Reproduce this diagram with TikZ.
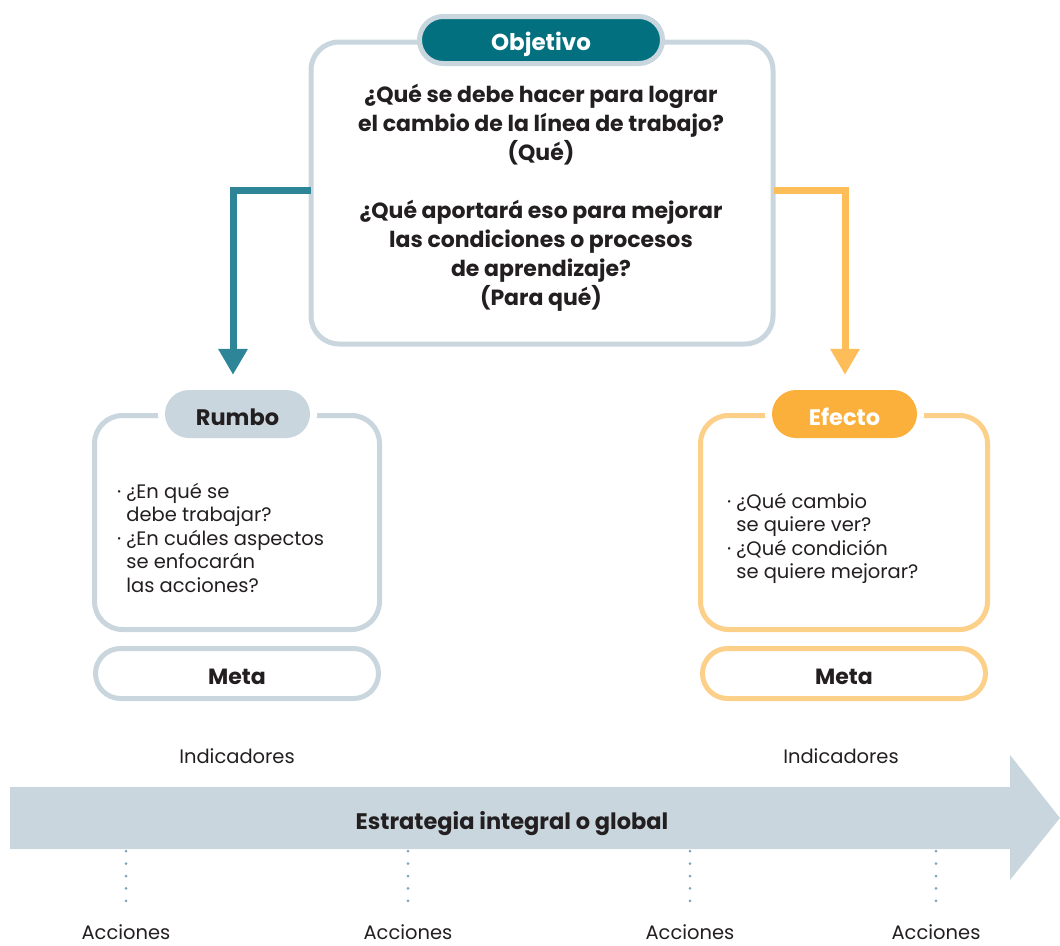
\documentclass[tikz,border=0pt]{standalone}
\usepackage{fontspec}
\setmainfont{Poppins}
\usetikzlibrary{arrows.meta,calc}

\definecolor{framegray}{HTML}{C9D6DE}
\definecolor{tealdark}{HTML}{03707F}
\definecolor{tealarrow}{HTML}{2F8598}
\definecolor{orangetag}{HTML}{FBB03B}
\definecolor{orangeframe}{HTML}{FDD089}
\definecolor{orangearrow}{HTML}{FDBE5A}
\definecolor{ink}{HTML}{231F20}
\definecolor{dotblue}{HTML}{7FA6B8}

\begin{document}
\begin{tikzpicture}[x=1pt,y=-1pt,
  every node/.style={text=ink},
  frame/.style={draw, line width=5pt, rounded corners=28pt, fill=white, inner sep=0pt},
  pill/.style={draw, line width=5pt, rounded corners=25pt, fill=white,
    minimum width=283pt, minimum height=50pt, inner sep=0pt,
    text height=22pt, text depth=0pt,
    font=\fontsize{22}{26}\selectfont\bfseries},
  tag/.style={rounded corners=24pt, minimum width=145pt, minimum height=48pt, inner sep=0pt,
    text height=22pt, text depth=0pt,
    preaction={draw=white, line width=14pt},
    font=\fontsize{22.5}{26}\selectfont\bfseries},
  bodytext/.style={font=\fontsize{19.5}{23.5}\selectfont, inner sep=0pt},
  flow/.style={line width=7pt, -{Triangle[width=28pt,length=26pt]}},
  dots/.style={draw=dotblue, line width=3pt, line cap=round, dash pattern=on 0pt off 12.4pt},
]
\useasboundingbox (0,0) rectangle (1060,945);

% --- Objective block ---
\node[frame, draw=framegray, minimum width=462pt, minimum height=302pt] (obj) at (542,193) {};
\node[align=center, inner sep=0pt, font=\fontsize{22}{29}\selectfont\bfseries] (objtext) at (541,198)
  {¿Qué se debe hacer para lograr\\
   el cambio de la línea de trabajo?\\
   (Qué)\\[29pt]
   ¿Qué aportará eso para mejorar\\
   las condiciones o procesos\\
   de aprendizaje?\\
   (Para qué)};
\node[draw=framegray, line width=5pt, fill=tealdark, rounded corners=23.5pt,
      minimum width=243pt, minimum height=47pt, inner sep=0pt, text=white,
      text height=20pt, text depth=0pt,
      font=\fontsize{23}{26}\selectfont\bfseries] (objtag) at (541,40) {Objetivo};

% --- Direction block ---
\node[frame, draw=framegray, minimum width=285pt, minimum height=214pt] (rumbo) at (237,522.5) {};
\node[tag, fill=framegray] (rumbotag) at (237.5,414) {Rumbo};
\node[bodytext, anchor=base west] (rumbotext) at (117,498)
  {\begin{tabular}[t]{@{}l@{\hspace{5pt}}l@{}}
   · & ¿En qué se\\
     & debe trabajar?\\
   · & ¿En cuáles aspectos\\
     & se enfocarán\\
     & las acciones?
   \end{tabular}};
\node[pill, draw=framegray] (meta1) at (237,673.5) {Meta};

% --- Effect block ---
\node[frame, draw=orangeframe, minimum width=287pt, minimum height=214pt] (efecto) at (844,522.5) {};
\node[tag, fill=orangetag, text=white] (efectotag) at (844.5,414) {Efecto};
\node[bodytext, anchor=base west] (efectotext) at (727,508)
  {\begin{tabular}[t]{@{}l@{\hspace{5pt}}l@{}}
   · & ¿Qué cambio\\
     & se quiere ver?\\
   · & ¿Qué condición\\
     & se quiere mejorar?
   \end{tabular}};
\node[pill, draw=orangeframe] (meta2) at (844,673.5) {Meta};

% --- Flow from the objective to both blocks ---
\coordinate (rumboin) at ($(rumbotag.north)+(-4.5,-15)$);
\coordinate (efectoin) at ($(efectotag.north)+(0.5,-15)$);
\draw[flow, draw=tealarrow] ($(obj.west)+(2,-3)$) -| (rumboin);
\draw[flow, draw=orangearrow] ($(obj.east)+(-2,-3)$) -| (efectoin);

% --- Indicators ---
\node[bodytext, anchor=base] (ind1) at (237,763) {Indicadores};
\node[bodytext, anchor=base] (ind2) at (841,763) {Indicadores};

% --- Strategy arrow ---
\fill[framegray] (10,787) -- (1010,787) -- (1010,755) -- (1060,818)
  -- (1010,880) -- (1010,849) -- (10,849) -- cycle;
\node[minimum width=1000pt, minimum height=62pt, inner sep=0pt,
      text height=22pt, text depth=0pt,
      font=\fontsize{22.5}{26}\selectfont\bfseries] (strat) at (512,818)
  {Estrategia integral o global};

% --- Actions ---
\node[bodytext, anchor=base] (acc1) at (126,939) {Acciones};
\node[bodytext, anchor=base] (acc2) at (408,939) {Acciones};
\node[bodytext, anchor=base] (acc3) at (690,939) {Acciones};
\node[bodytext, anchor=base] (acc4) at (936,939) {Acciones};
\foreach \a in {acc1,acc2,acc3,acc4}
  \draw[dots] ($(strat.south -| \a.north)+(0,2)$) -- ($(\a.north)+(0,-11)$);
\end{tikzpicture}
\end{document}
